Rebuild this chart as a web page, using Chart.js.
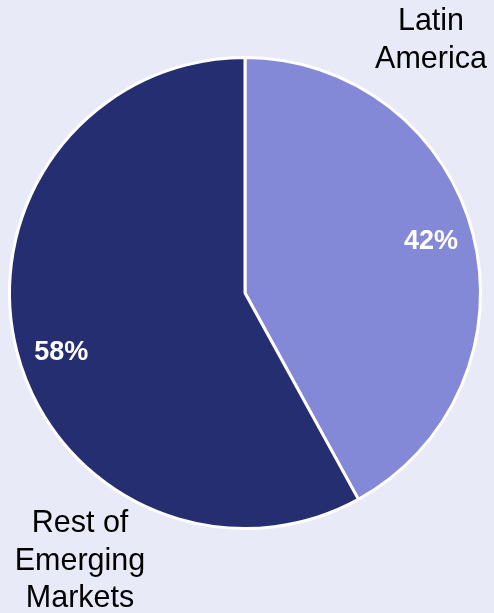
<!DOCTYPE html>
<html>
<head>
<meta charset="utf-8">
<script src="https://cdn.jsdelivr.net/npm/chart.js@4/dist/chart.umd.min.js"></script>
<style>
  html, body { margin: 0; padding: 0; background: #e9eaf8; }
  #wrap { width: 494px; height: 613px; position: relative; }
</style>
</head>
<body>
<div id="wrap"><canvas id="myChart"></canvas></div>
<script>
const regions = ["Latin America", "Rest of Emerging Markets"];
const shares = [42, 58];
const sliceColors = ["#8389d6", "#262e72"];

// region names sit outside the pie, split on several lines
const outerLabels = [
  { lines: ["Latin", "America"], x: 431, y: 22 },
  { lines: ["Rest of", "Emerging", "Markets"], x: 80, y: 524 },
];

const labelPlugin = {
  id: "sliceLabels",
  afterDraw(chart) {
    const ctx = chart.ctx;
    const meta = chart.getDatasetMeta(0);
    ctx.save();
    ctx.textAlign = "center";
    ctx.textBaseline = "middle";

    // percentages inside each slice
    ctx.fillStyle = "#ffffff";
    ctx.font = "bold 27px 'Liberation Sans', Arial, sans-serif";
    meta.data.forEach((arc, i) => {
      const p = arc.getProps(["x", "y", "startAngle", "endAngle", "outerRadius"], true);
      const mid = (p.startAngle + p.endAngle) / 2 + (i === 1 ? -0.06 : -0.02);
      const r = p.outerRadius * 0.82;
      ctx.fillText(shares[i] + "%", p.x + Math.cos(mid) * r, p.y + Math.sin(mid) * r);
    });

    ctx.fillStyle = "#000000";
    ctx.font = "30.5px 'Liberation Sans', Arial, sans-serif";
    outerLabels.forEach((lab) => {
      lab.lines.forEach((line, j) => {
        ctx.fillText(line, lab.x, lab.y + j * 37.5);
      });
    });
    ctx.restore();
  },
};

new Chart("myChart", {
  type: "pie",
  data: {
    labels: regions,
    datasets: [
      {
        data: shares,
        backgroundColor: sliceColors,
        borderColor: "#ffffff",
        borderWidth: 3,
      },
    ],
  },
  options: {
    responsive: true,
    maintainAspectRatio: false,
    animation: false,
    layout: { padding: { left: 8, right: 12, top: 56, bottom: 83 } },
    plugins: {
      legend: { display: false },
      tooltip: { enabled: false },
    },
  },
  plugins: [labelPlugin],
});
</script>
</body>
</html>
